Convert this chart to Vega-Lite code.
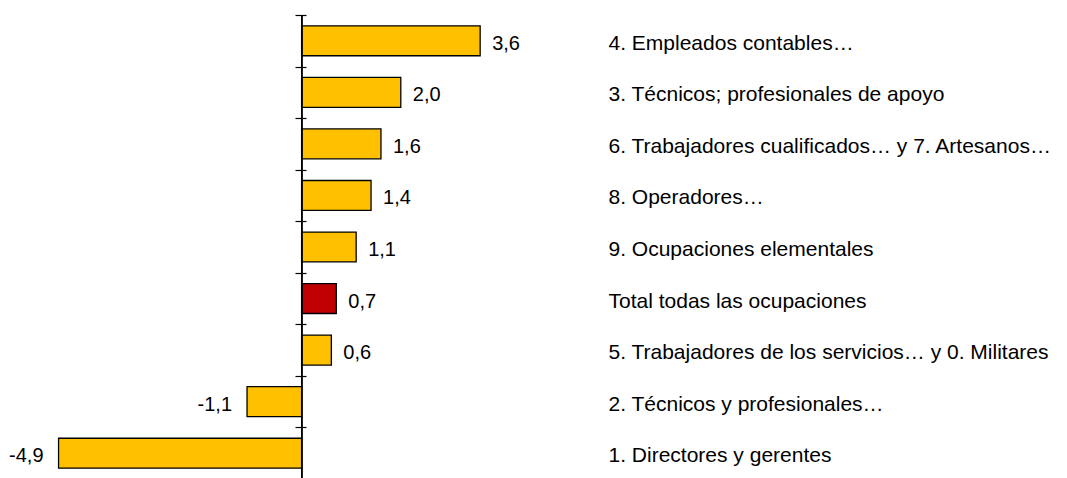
{
  "$schema": "https://vega.github.io/schema/vega-lite/v6.json",
  "autosize": "none",
  "width": 496,
  "height": 464,
  "padding": {"left": 4, "top": 15, "right": 567, "bottom": 0},
  "background": "white",
  "config": {
    "view": {"stroke": null},
    "font": "Liberation Sans",
    "locale": {"number": {"decimal": ",", "thousands": ".", "grouping": [3], "currency": ["", " €"], "minus": "-"}}
  },
  "data": {
    "values": [
      {"ocupacion": "4. Empleados contables…", "valor": 3.6, "tipo": "grupo"},
      {"ocupacion": "3. Técnicos; profesionales de apoyo", "valor": 2.0, "tipo": "grupo"},
      {"ocupacion": "6. Trabajadores cualificados… y 7. Artesanos…", "valor": 1.6, "tipo": "grupo"},
      {"ocupacion": "8. Operadores…", "valor": 1.4, "tipo": "grupo"},
      {"ocupacion": "9. Ocupaciones elementales", "valor": 1.1, "tipo": "grupo"},
      {"ocupacion": "Total todas las ocupaciones", "valor": 0.7, "tipo": "total"},
      {"ocupacion": "5. Trabajadores de los servicios… y 0. Militares", "valor": 0.6, "tipo": "grupo"},
      {"ocupacion": "2. Técnicos y profesionales…", "valor": -1.1, "tipo": "grupo"},
      {"ocupacion": "1. Directores y gerentes", "valor": -4.9, "tipo": "grupo"}
    ]
  },
  "layer": [
    {
      "mark": {"type": "bar", "stroke": "black", "strokeWidth": 1.3, "height": {"band": 0.58}},
      "encoding": {
        "x": {"field": "valor", "type": "quantitative", "scale": {"domain": [-6, 4], "nice": false, "zero": true}, "axis": null},
        "y": {
          "field": "ocupacion", "type": "nominal", "sort": null,
          "scale": {"paddingInner": 0, "paddingOuter": 0},
          "axis": {"orient": "left", "offset": -302, "domain": false, "labels": false, "title": null, "ticks": true, "tickSize": 11, "tickColor": "black", "tickWidth": 1.2, "tickBand": "extent", "grid": false}
        },
        "color": {"field": "tipo", "type": "nominal", "scale": {"domain": ["grupo", "total"], "range": ["#FFC000", "#C00000"]}, "legend": null}
      }
    },
    {
      "mark": {"type": "rule", "color": "black", "strokeWidth": 1.2},
      "encoding": {"x": {"datum": 0, "type": "quantitative"}}
    },
    {
      "transform": [{"filter": "datum.valor >= 0"}],
      "mark": {"type": "text", "align": "left", "baseline": "middle", "dx": 12, "dy": 3, "fontSize": 20, "font": "Liberation Sans", "color": "black"},
      "encoding": {
        "x": {"field": "valor", "type": "quantitative"},
        "y": {
          "field": "ocupacion", "type": "nominal", "sort": null,
          "axis": {"orient": "right", "domain": false, "ticks": false, "tickSize": 0, "labelPadding": 108, "labelOffset": 3, "labelFontSize": 21, "labelFont": "Liberation Sans", "labelColor": "black", "labelLimit": 600, "title": null, "grid": false}
        },
        "text": {"field": "valor", "type": "quantitative", "format": ".1f"}
      }
    },
    {
      "transform": [{"filter": "datum.valor < 0"}],
      "mark": {"type": "text", "align": "right", "baseline": "middle", "dx": -15, "dy": 3, "fontSize": 20, "font": "Liberation Sans", "color": "black"},
      "encoding": {
        "x": {"field": "valor", "type": "quantitative"},
        "y": {"field": "ocupacion", "type": "nominal", "sort": null, "axis": null},
        "text": {"field": "valor", "type": "quantitative", "format": ".1f"}
      }
    }
  ],
  "resolve": {"axis": {"y": "independent"}}
}
